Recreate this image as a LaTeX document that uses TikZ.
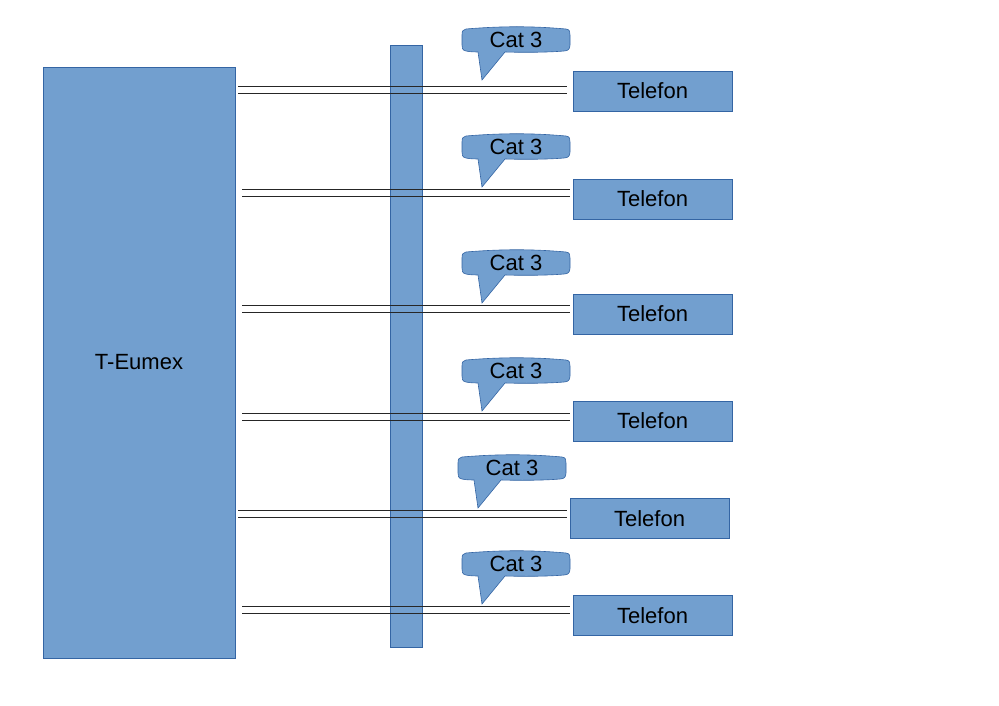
\documentclass[tikz,border=0pt]{standalone}
\usepackage{fontspec}
\setmainfont{Liberation Sans}
\definecolor{boxfill}{HTML}{729FCF}
\definecolor{boxline}{HTML}{3465A4}
\begin{document}
\begin{tikzpicture}[x=1pt,y=-1pt,
  blue box/.style={draw=boxline,fill=boxfill,line width=0.6pt,inner sep=0pt,font=\fontsize{22}{24}\selectfont},
  wire/.style={draw=black!85,line width=0.9pt},
  bubble/.style={draw=boxline,fill=boxfill,line width=0.6pt},
  bubbletext/.style={font=\fontsize{22}{24}\selectfont,inner sep=0pt}]
\useasboundingbox (0,0) rectangle (999,706);
% main boxes
\node[blue box,minimum width=192pt,minimum height=591pt] (eumex) at (139,362.5) {};
\node[font=\fontsize{22}{24}\selectfont] (eumexlabel) at (139,362) {T-Eumex};
\node[blue box,minimum width=32pt,minimum height=602pt] (bar) at (406,346) {};
% telephones
\foreach \i/\x/\y in {1/652.5/91,2/652.5/199,3/652.5/314,4/652.5/421,5/649.5/518.5,6/652.5/615.5}{
  \node[blue box,minimum width=159pt,minimum height=40pt] (tel\i) at (\x,\y) {Telefon};
}
% wires
\foreach \i/\xa/\xb/\ya in {1/238/567/86,2/242/570/189,3/242/570/305,4/242/570/413,5/238/567/510,6/242/570/606}{
  \coordinate (wa\i) at (\xa,\ya);
  \coordinate (wb\i) at (\xb,\ya);
  \coordinate (wc\i) at (\xa,\ya+7);
  \coordinate (wd\i) at (\xb,\ya+7);
  \draw[wire] (wa\i) -- (wb\i);
  \draw[wire] (wc\i) -- (wd\i);
}
% callouts
\foreach \i/\x/\y in {1/462/27,2/462/134,3/462/250,4/462/358,5/458/455,6/462/551}{
  \begin{scope}[shift={(\x,\y)}]
    \path[bubble] (4,2) .. controls (40,-1) and (70,-1) .. (104,2)
      .. controls (108,2.5) and (108,5) .. (108,8) -- (108,18)
      .. controls (108,22) and (106,24) .. (102,24)
      .. controls (85,25.5) and (60,25.5) .. (43,25) -- (20,53) -- (16,25)
      .. controls (10,25) and (6,24.5) .. (4,24)
      .. controls (0,23) and (0,21) .. (0,18) -- (0,8)
      .. controls (0,4) and (1,2.5) .. (4,2) -- cycle;
    \node[bubbletext] (cat\i) at (54,12.5) {Cat 3};
  \end{scope}
}
\end{tikzpicture}
\end{document}
